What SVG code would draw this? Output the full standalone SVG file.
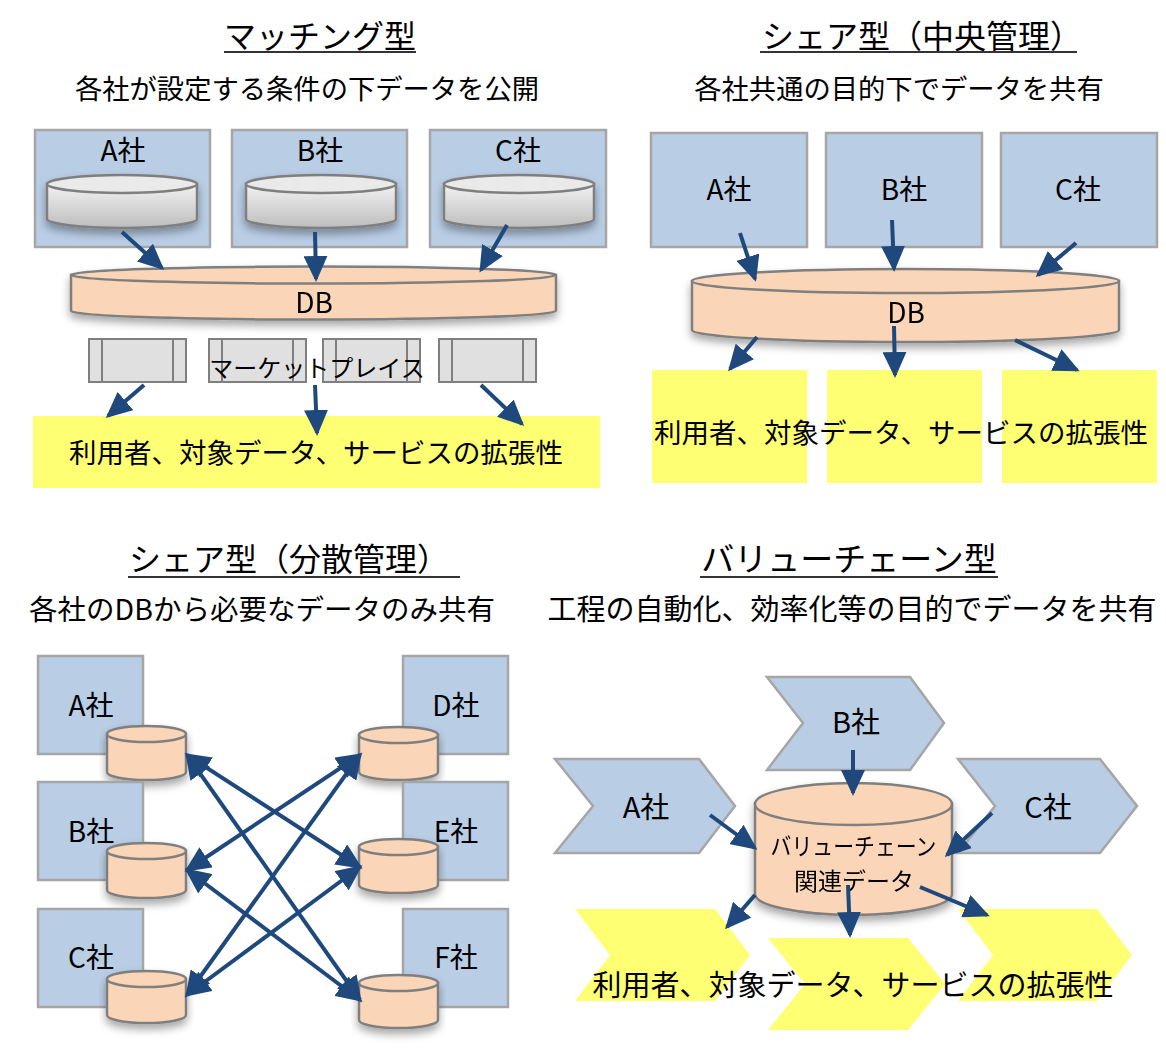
<svg xmlns="http://www.w3.org/2000/svg" width="1166" height="1060" viewBox="0 0 1166 1060">
<style>
text{font-family:"Noto Sans CJK JP","Noto Sans",sans-serif;fill:#000;}
.title{font-size:32px;}
.sub{font-size:27.3px;text-anchor:middle;}
.lbl{font-size:28px;text-anchor:middle;}
.main{font-size:27.5px;text-anchor:middle;}
.ul{stroke:#333;stroke-width:2;}
.blue{fill:#B9CDE5;stroke:#A6A6A6;stroke-width:2.5;}
.yel{fill:#FFFF73;stroke:none;}
.peach{fill:#FAD5B7;stroke:#7F7F7F;stroke-width:2.5;}
.grayc{fill:url(#gGray);stroke:#7F7F7F;stroke-width:2.5;}
.grayt{fill:#EAEAEA;stroke:#7F7F7F;stroke-width:2.5;}
.mp{fill:#E0E0E0;stroke:#7F7F7F;stroke-width:2;}
.arr{stroke:#1F497D;stroke-width:4;fill:none;marker-end:url(#ah);}
.darr{stroke:#1F497D;stroke-width:4;fill:none;marker-end:url(#ah);marker-start:url(#ah);}
</style>
<defs>
<linearGradient id="gGray" x1="0" y1="0" x2="0" y2="1">
<stop offset="0" stop-color="#F2F2F2"/><stop offset="1" stop-color="#BDBDBD"/>
</linearGradient>
<filter id="sh" x="-10%" y="-30%" width="120%" height="180%">
<feDropShadow dx="0" dy="5" stdDeviation="4" flood-color="#000" flood-opacity="0.35"/>
</filter>
<marker id="ah" viewBox="0 0 26 24" markerWidth="26" markerHeight="24" refX="23" refY="12" orient="auto-start-reverse" markerUnits="userSpaceOnUse">
<path d="M0,0 L26,12 L0,24 z" fill="#1F497D"/>
</marker>
</defs>

<!-- ===== Top-left: Matching ===== -->
<g id="title-matching">
<text class="title" x="224" y="48">マッチング型</text>
<line class="ul" x1="224" y1="52" x2="416" y2="52"/>
<text class="sub" x="307" y="99">各社が設定する条件の下データを公開</text>
</g>
<g id="m-A">
<rect class="blue" x="35" y="130" width="175" height="117"/>
<text class="lbl" x="123" y="161">A社</text>
<g filter="url(#sh)"><path class="grayc" d="M47,184 V219 A75,9 0 0 0 197,219 V184 Z"/><ellipse class="grayt" cx="122" cy="184" rx="75" ry="9"/></g>
</g>
<g id="m-B">
<rect class="blue" x="232" y="130" width="175" height="117"/>
<text class="lbl" x="320" y="161">B社</text>
<g filter="url(#sh)"><path class="grayc" d="M246,184 V219 A75,9 0 0 0 396,219 V184 Z"/><ellipse class="grayt" cx="321" cy="184" rx="75" ry="9"/></g>
</g>
<g id="m-C">
<rect class="blue" x="430" y="130" width="176" height="117"/>
<text class="lbl" x="518" y="161">C社</text>
<g filter="url(#sh)"><path class="grayc" d="M444,184 V219 A75,9 0 0 0 594,219 V184 Z"/><ellipse class="grayt" cx="519" cy="184" rx="75" ry="9"/></g>
</g>
<g id="m-DB" filter="url(#sh)">
<path class="peach" d="M71,275 V311 A242.5,8.5 0 0 0 556,311 V275 Z"/>
<ellipse class="peach" cx="313.5" cy="275" rx="242.5" ry="8.5"/>
<text class="lbl" x="314" y="313">DB</text>
</g>
<g id="m-market">
<rect class="mp" x="89" y="339" width="97" height="43"/><line class="mp" x1="102" y1="339" x2="102" y2="382"/><line class="mp" x1="173" y1="339" x2="173" y2="382"/>
<rect class="mp" x="209" y="339" width="97" height="43"/><line class="mp" x1="222" y1="339" x2="222" y2="382"/><line class="mp" x1="293" y1="339" x2="293" y2="382"/>
<rect class="mp" x="323" y="339" width="97" height="43"/><line class="mp" x1="336" y1="339" x2="336" y2="382"/><line class="mp" x1="407" y1="339" x2="407" y2="382"/>
<rect class="mp" x="439" y="339" width="97" height="43"/><line class="mp" x1="452" y1="339" x2="452" y2="382"/><line class="mp" x1="523" y1="339" x2="523" y2="382"/>
<text x="317" y="377" style="font-size:24px;text-anchor:middle">マーケットプレイス</text>
</g>
<g id="m-out">
<rect class="yel" x="33" y="416" width="567" height="72"/>
<text class="main" x="316" y="463">利用者、対象データ、サービスの拡張性</text>
</g>

<!-- ===== Top-right: Share (central) ===== -->
<g id="title-central">
<text class="title" x="762" y="48">シェア型（中央管理）</text>
<line class="ul" x1="760" y1="52" x2="1077" y2="52"/>
<text class="sub" x="899" y="99">各社共通の目的下でデータを共有</text>
</g>
<g id="c-A"><rect class="blue" x="651" y="133" width="156" height="114"/><text class="lbl" x="729" y="200">A社</text></g>
<g id="c-B"><rect class="blue" x="826" y="133" width="156" height="114"/><text class="lbl" x="904" y="200">B社</text></g>
<g id="c-C"><rect class="blue" x="1001" y="133" width="156" height="114"/><text class="lbl" x="1078" y="200">C社</text></g>
<g id="c-DB" filter="url(#sh)">
<path class="peach" d="M692,281 V330 A213.5,12 0 0 0 1119,330 V281 Z"/>
<ellipse class="peach" cx="905.5" cy="281" rx="213.5" ry="12"/>
<text class="lbl" x="906" y="323">DB</text>
</g>
<g id="c-out">
<rect class="yel" x="652" y="370" width="155" height="113"/>
<rect class="yel" x="827" y="370" width="155" height="113"/>
<rect class="yel" x="1002" y="370" width="155" height="113"/>
<text class="main" x="901" y="443">利用者、対象データ、サービスの拡張性</text>
</g>

<!-- ===== Bottom-left: Share (distributed) ===== -->
<g id="title-dist">
<text class="title" x="129" y="571">シェア型（分散管理）</text>
<line class="ul" x1="128" y1="577" x2="460" y2="577"/>
<text class="sub" x="262" y="620" style="font-size:28.5px">各社のDBから必要なデータのみ共有</text>
</g>
<g id="d-A"><rect class="blue" x="38" y="656" width="105" height="98"/><text class="lbl" x="91" y="716">A社</text>
<g filter="url(#sh)"><path class="peach" d="M107,734 V772 A39.5,8 0 0 0 186,772 V734 Z"/><ellipse class="peach" cx="146.5" cy="734" rx="39.5" ry="8"/></g></g>
<g id="d-B"><rect class="blue" x="38" y="782" width="105" height="98"/><text class="lbl" x="91" y="842">B社</text>
<g filter="url(#sh)"><path class="peach" d="M107,851 V890 A39.5,8 0 0 0 186,890 V851 Z"/><ellipse class="peach" cx="146.5" cy="851" rx="39.5" ry="8"/></g></g>
<g id="d-C"><rect class="blue" x="38" y="909" width="105" height="98"/><text class="lbl" x="91" y="968">C社</text>
<g filter="url(#sh)"><path class="peach" d="M107,979 V1015 A39.5,8 0 0 0 186,1015 V979 Z"/><ellipse class="peach" cx="146.5" cy="979" rx="39.5" ry="8"/></g></g>
<g id="d-D"><rect class="blue" x="403" y="656" width="105" height="98"/><text class="lbl" x="456" y="716">D社</text>
<g filter="url(#sh)"><path class="peach" d="M359,735 V772 A39.5,8 0 0 0 438,772 V735 Z"/><ellipse class="peach" cx="398.5" cy="735" rx="39.5" ry="8"/></g></g>
<g id="d-E"><rect class="blue" x="403" y="782" width="105" height="98"/><text class="lbl" x="456" y="842">E社</text>
<g filter="url(#sh)"><path class="peach" d="M359,847 V885 A39.5,8 0 0 0 438,885 V847 Z"/><ellipse class="peach" cx="398.5" cy="847" rx="39.5" ry="8"/></g></g>
<g id="d-F"><rect class="blue" x="403" y="909" width="105" height="98"/><text class="lbl" x="456" y="968">F社</text>
<g filter="url(#sh)"><path class="peach" d="M359,983 V1020 A39.5,8 0 0 0 438,1020 V983 Z"/><ellipse class="peach" cx="398.5" cy="983" rx="39.5" ry="8"/></g></g>

<!-- ===== Bottom-right: Value chain ===== -->
<g id="title-vc">
<text x="849" y="571" style="font-size:33px;text-anchor:middle">バリューチェーン型</text>
<line class="ul" x1="700" y1="577" x2="998" y2="577"/>
<text x="852" y="620" style="font-size:29px;text-anchor:middle">工程の自動化、効率化等の目的でデータを共有</text>
</g>
<g id="v-B"><polygon class="blue" points="767,677 910,677 944,723 910,770 767,770 803,723"/><text class="lbl" x="856" y="733" style="font-size:29px">B社</text></g>
<g id="v-A"><polygon class="blue" points="555,759 699,759 735,806 699,853 555,853 593,806"/><text class="lbl" x="646" y="818" style="font-size:29px">A社</text></g>
<g id="v-C"><polygon class="blue" points="958,759 1100,759 1137,806 1100,853 958,853 995,806"/><text class="lbl" x="1048" y="818" style="font-size:29px">C社</text></g>
<g id="v-DB" filter="url(#sh)">
<path class="peach" d="M755,804 V894 A98.5,21 0 0 0 952,894 V804 Z"/>
<ellipse class="peach" cx="853.5" cy="804" rx="98.5" ry="21"/>
<text x="853.5" y="855" textLength="166" lengthAdjust="spacingAndGlyphs" style="font-size:24px;text-anchor:middle">バリューチェーン</text>
<text x="854" y="890" style="font-size:24px;text-anchor:middle">関連データ</text>
</g>
<g id="v-out">
<polygon class="yel" points="575,909 715,909 750,955 715,1001 575,1001 610,955"/>
<polygon class="yel" points="768,938 908,938 945,984 908,1030 768,1030 805,984"/>
<polygon class="yel" points="958,909 1097,909 1132,955 1097,1001 958,1001 993,955"/>
<text x="853" y="996" style="font-size:29px;text-anchor:middle">利用者、対象データ、サービスの拡張性</text>
</g>

<!-- ===== Connectors ===== -->
<g id="connectors">
<line class="arr" x1="122" y1="232" x2="162" y2="268"/>
<line class="arr" x1="315" y1="232" x2="316" y2="279"/>
<line class="arr" x1="507" y1="225" x2="481" y2="270"/>
<line class="arr" x1="144" y1="385" x2="108" y2="416"/>
<line class="arr" x1="315" y1="385" x2="317" y2="433"/>
<line class="arr" x1="481" y1="385" x2="522" y2="424"/>

<line class="arr" x1="740" y1="233" x2="755" y2="279"/>
<line class="arr" x1="892" y1="220" x2="894" y2="269"/>
<line class="arr" x1="1076" y1="243" x2="1038" y2="275"/>
<line class="arr" x1="757" y1="337" x2="730" y2="369"/>
<line class="arr" x1="894" y1="326" x2="895" y2="375"/>
<line class="arr" x1="1015" y1="340" x2="1077" y2="370"/>

<line class="darr" x1="187" y1="755" x2="360" y2="867"/>
<line class="darr" x1="187" y1="755" x2="360" y2="1000"/>
<line class="darr" x1="187" y1="870" x2="360" y2="755"/>
<line class="darr" x1="187" y1="870" x2="360" y2="1000"/>
<line class="darr" x1="187" y1="995" x2="360" y2="755"/>
<line class="darr" x1="187" y1="995" x2="360" y2="867"/>

<line class="arr" x1="853" y1="750" x2="853" y2="793"/>
<line class="arr" x1="710" y1="815" x2="755" y2="848"/>
<line class="arr" x1="992" y1="813" x2="947" y2="855"/>
<line class="arr" x1="755" y1="895" x2="727" y2="927"/>
<line class="arr" x1="848" y1="885" x2="850" y2="935"/>
<line class="arr" x1="920" y1="887" x2="987" y2="915"/>
</g>
</svg>
